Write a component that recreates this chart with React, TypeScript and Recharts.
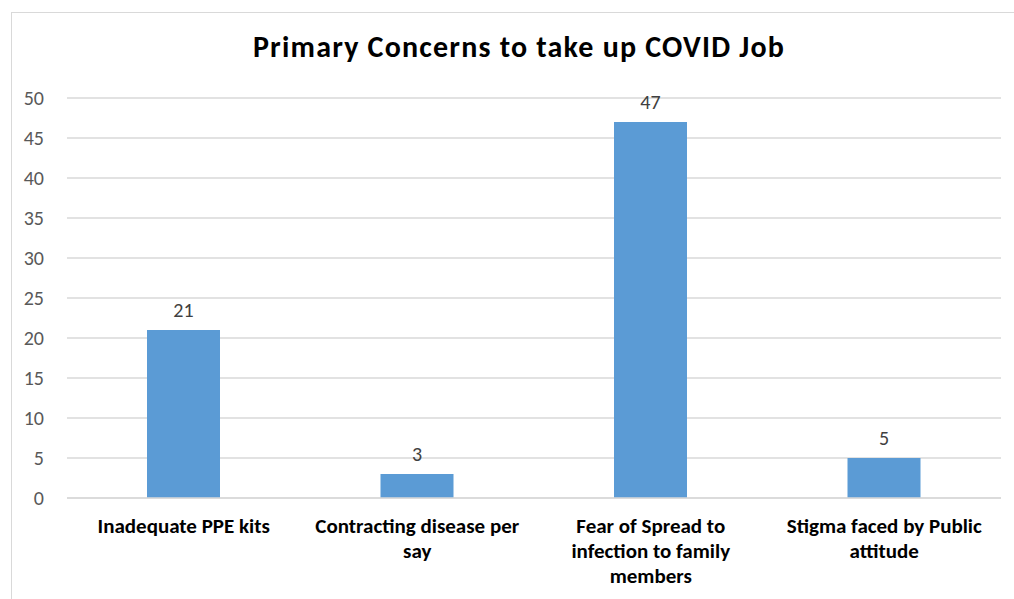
import React from 'react';
import {Bar, BarChart, CartesianGrid, LabelList, XAxis, YAxis} from 'recharts';

const categories = [
    'Inadequate PPE kits',
    'Contracting disease per say',
    'Fear of Spread to infection to family members',
    'Stigma faced by Public attitude',
];
const categoryLines = [
    ['Inadequate PPE kits'],
    ['Contracting disease per', 'say'],
    ['Fear of Spread to', 'infection to family', 'members'],
    ['Stigma faced by Public', 'attitude'],
];
const counts = [21, 3, 47, 5];
const yTicks = [0, 5, 10, 15, 20, 25, 30, 35, 40, 45, 50];

const data = categories.map((name, i) => ({name, value: counts[i]}));

const FONT = 'Carlito, "Liberation Sans", Arial, sans-serif';

const CategoryTick = (props: any) => {
    const {x, y, index} = props;
    const lines = categoryLines[index] || [];
    return (
        <g transform={`translate(${x},${y})`}>
            {lines.map((line, i) => (
                <text
                    key={i}
                    x={0}
                    y={27 + i * 25}
                    textAnchor="middle"
                    fontSize={21}
                    fontWeight="bold"
                    fill="#000"
                    fontFamily={FONT}
                >
                    {line}
                </text>
            ))}
        </g>
    );
};

export default function App() {
    return (
        <div style={{position: 'absolute', left: 0, top: 0, width: 1014, height: 599, overflow: 'hidden', background: '#fff'}}>
            <div style={{
                position: 'absolute', left: 11, top: 12, width: 1100, height: 700,
                borderLeft: '1.5px solid #d9d9d9', borderTop: '1.5px solid #d9d9d9',
            }}/>
            <svg width={1014} height={80} style={{position: 'absolute', left: 0, top: 0}}>
                <text
                    x={519}
                    y={57}
                    textAnchor="middle"
                    fontFamily={FONT}
                    fontWeight="bold"
                    fontSize={30}
                    letterSpacing={1.2}
                    fill="#000"
                >
                    Primary Concerns to take up COVID Job
                </text>
            </svg>
            <div style={{position: 'absolute', left: 0, top: 0}}>
                <BarChart
                    width={1014}
                    height={599}
                    data={data}
                    margin={{top: 98, right: 13, bottom: 0, left: 0}}
                    barCategoryGap={0}
                >
                    <CartesianGrid vertical={false} stroke="#d9d9d9" strokeWidth={1.5}/>
                    <XAxis
                        dataKey="name"
                        height={101}
                        axisLine={{stroke: '#d9d9d9', strokeWidth: 1.5}}
                        tickLine={false}
                        interval={0}
                        tick={<CategoryTick/>}
                    />
                    <YAxis
                        width={67}
                        domain={[0, 50]}
                        ticks={yTicks}
                        axisLine={false}
                        tickLine={false}
                        tick={{fill: '#595959', fontSize: 20, fontFamily: FONT}}
                        tickMargin={17}
                    />
                    <Bar dataKey="value" fill="#5b9bd5" barSize={73} isAnimationActive={false}>
                        <LabelList
                            dataKey="value"
                            position="top"
                            offset={13}
                            fill="#404040"
                            fontSize={20}
                            fontFamily={FONT}
                        />
                    </Bar>
                </BarChart>
            </div>
        </div>
    );
}
